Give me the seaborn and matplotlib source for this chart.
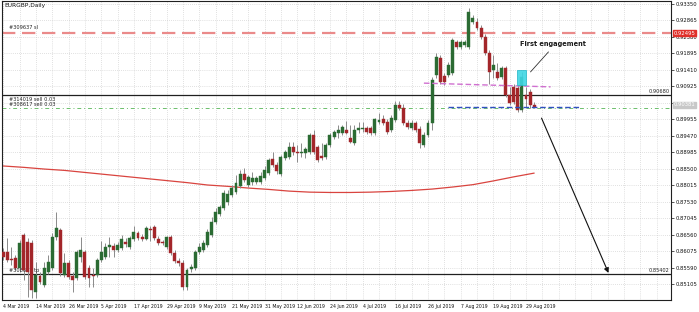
import numpy as np
import pandas as pd
import matplotlib
matplotlib.use("Agg")
import matplotlib.pyplot as plt
from matplotlib.patches import Rectangle
from matplotlib.transforms import blended_transform_factory
import seaborn as sns

# ---------------- data (EURGBP daily) ----------------
opens = [0.8605,0.8605,0.8584,0.8587,0.8558,0.8655,0.8634,0.8631,0.8487,0.8534,
         0.8507,0.8546,0.8558,0.8649,0.8669,0.8537,0.8572,0.8534,0.8528,0.8590,
         0.8605,0.8558,0.8537,0.8537,0.8581,0.8590,0.8619,0.8622,0.8611,0.8616,
         0.8634,0.8619,0.8643,0.8661,0.8649,0.8643,0.8672,0.8678,0.8643,0.8634,
         0.8619,0.8649,0.8602,0.8578,0.8572,0.8502,0.8555,0.8558,0.8605,0.8611,
         0.8625,0.8655,0.8693,0.8717,0.8734,0.8752,0.8773,0.8781,0.8799,0.8834,
         0.8802,0.8811,0.8811,0.8811,0.8823,0.8837,0.8879,0.8861,0.8834,0.8881,
         0.8884,0.8914,0.8899,0.8896,0.8896,0.8899,0.8949,0.8914,0.8887,0.8884,
         0.8920,0.8943,0.8955,0.8955,0.8964,0.8940,0.8926,0.8964,0.8967,0.8970,
         0.8970,0.8955,0.8988,0.8996,0.8988,0.8964,0.8993,0.9038,0.9029,0.8985,
         0.8970,0.8985,0.8967,0.8920,0.8949,0.8985,0.9126,0.9176,0.9123,0.9126,
         0.9132,0.9223,0.9208,0.9214,0.9208,0.9282,0.9282,0.9264,0.9238,0.9191,
         0.9141,0.9135,0.9120,0.9147,0.9067,0.9091,0.9088,0.9023,0.9067,0.9076,
         0.9038]
highs = [0.8616,0.8646,0.8619,0.8596,0.8640,0.8661,0.8646,0.8640,0.8575,0.8546,
         0.8575,0.8596,0.8661,0.8722,0.8675,0.8602,0.8581,0.8546,0.8611,0.8649,
         0.8611,0.8566,0.8558,0.8587,0.8637,0.8631,0.8649,0.8631,0.8634,0.8655,
         0.8646,0.8652,0.8681,0.8667,0.8658,0.8681,0.8681,0.8684,0.8652,0.8640,
         0.8652,0.8655,0.8611,0.8587,0.8581,0.8558,0.8569,0.8611,0.8631,0.8640,
         0.8672,0.8708,0.8734,0.8743,0.8787,0.8787,0.8802,0.8831,0.8846,0.8852,
         0.8831,0.8840,0.8829,0.8840,0.8858,0.8881,0.8899,0.8870,0.8890,0.8905,
         0.8929,0.8929,0.8920,0.8926,0.8914,0.8955,0.8964,0.8920,0.8926,0.8926,
         0.8955,0.8964,0.8979,0.8979,0.8990,0.8979,0.8979,0.8988,0.8988,0.8976,
         0.8976,0.8999,0.9014,0.9008,0.8996,0.9008,0.9049,0.9049,0.9041,0.8993,
         0.8993,0.8990,0.8976,0.8958,0.8993,0.9120,0.9191,0.9185,0.9132,0.9164,
         0.9235,0.9229,0.9229,0.9229,0.9323,0.9303,0.9294,0.9273,0.9247,0.9200,
         0.9185,0.9161,0.9152,0.9152,0.9091,0.9099,0.9096,0.9135,0.9091,0.9085,
         0.9046]
lows = [0.8581,0.8575,0.8566,0.8552,0.8546,0.8522,0.8472,0.8469,0.8469,0.8510,
        0.8502,0.8540,0.8552,0.8640,0.8534,0.8531,0.8525,0.8487,0.8522,0.8575,
        0.8525,0.8502,0.8502,0.8531,0.8575,0.8584,0.8590,0.8590,0.8605,0.8611,
        0.8619,0.8613,0.8637,0.8640,0.8637,0.8640,0.8637,0.8640,0.8625,0.8625,
        0.8613,0.8596,0.8572,0.8563,0.8493,0.8493,0.8546,0.8552,0.8599,0.8605,
        0.8619,0.8649,0.8687,0.8711,0.8728,0.8743,0.8767,0.8775,0.8793,0.8811,
        0.8796,0.8802,0.8805,0.8805,0.8817,0.8831,0.8855,0.8834,0.8829,0.8876,
        0.8879,0.8890,0.8870,0.8884,0.8881,0.8893,0.8893,0.8870,0.8876,0.8879,
        0.8914,0.8937,0.8940,0.8949,0.8952,0.8926,0.8920,0.8955,0.8958,0.8952,
        0.8949,0.8949,0.8982,0.8979,0.8952,0.8958,0.8988,0.9023,0.8979,0.8967,
        0.8964,0.8958,0.8911,0.8914,0.8943,0.8964,0.9117,0.9099,0.9096,0.9120,
        0.9126,0.9202,0.9202,0.9208,0.9202,0.9276,0.9258,0.9232,0.9185,0.9099,
        0.9117,0.9111,0.9114,0.9061,0.9038,0.9041,0.9017,0.9017,0.9032,0.9029,
        0.9029]
closes = [0.8590,0.8581,0.8581,0.8558,0.8631,0.8552,0.8546,0.8493,0.8537,0.8516,
          0.8558,0.8575,0.8649,0.8675,0.8543,0.8572,0.8531,0.8522,0.8605,0.8611,
          0.8531,0.8528,0.8534,0.8581,0.8605,0.8619,0.8625,0.8611,0.8625,0.8643,
          0.8628,0.8646,0.8664,0.8646,0.8643,0.8675,0.8669,0.8646,0.8631,0.8631,
          0.8649,0.8602,0.8578,0.8572,0.8502,0.8552,0.8561,0.8605,0.8619,0.8631,
          0.8664,0.8693,0.8722,0.8737,0.8778,0.8775,0.8793,0.8808,0.8834,0.8817,
          0.8826,0.8823,0.8823,0.8829,0.8846,0.8876,0.8861,0.8843,0.8884,0.8899,
          0.8914,0.8899,0.8896,0.8899,0.8908,0.8949,0.8899,0.8876,0.8881,0.8920,
          0.8949,0.8958,0.8964,0.8973,0.8955,0.8929,0.8964,0.8970,0.8970,0.8958,
          0.8955,0.8996,0.8993,0.8985,0.8958,0.8999,0.9038,0.9029,0.8985,0.8973,
          0.8985,0.8964,0.8926,0.8949,0.8985,0.9111,0.9179,0.9105,0.9105,0.9155,
          0.9229,0.9208,0.9223,0.9223,0.9311,0.9294,0.9264,0.9238,0.9191,0.9135,
          0.9155,0.9117,0.9147,0.9067,0.9043,0.9046,0.9023,0.9120,0.9055,0.9038,
          0.9032]

# 200-period moving average, sampled every 5 bars
ma_idx = [0, 5, 10, 15, 20, 25, 30, 35, 40, 45, 50, 55, 60, 65, 70, 75, 80, 85,
          90, 95, 100, 105, 110, 115, 120, 125, 130]
ma_vals = [0.8858,0.8854,0.8849,0.8845,0.8839,0.8833,0.8827,0.8821,0.8815,0.8809,
           0.8802,0.8798,0.8793,0.8789,0.8784,0.8781,0.8780,0.8780,0.8781,0.8783,
           0.8786,0.8790,0.8796,0.8803,0.8814,0.8826,0.8837]

date_idx = [0, 8, 16, 24, 32, 40, 48, 56, 64, 72, 80, 88, 96, 104, 112, 120, 128]
date_labels = ["4 Mar 2019", "14 Mar 2019", "26 Mar 2019", "5 Apr 2019",
               "17 Apr 2019", "29 Apr 2019", "9 May 2019", "21 May 2019",
               "31 May 2019", "12 Jun 2019", "24 Jun 2019", "4 Jul 2019",
               "16 Jul 2019", "26 Jul 2019", "7 Aug 2019", "19 Aug 2019",
               "29 Aug 2019"]
price_ticks = [0.93350, 0.92865, 0.92380, 0.91895, 0.91410, 0.90925, 0.90440,
               0.89955, 0.89470, 0.88985, 0.88500, 0.88015, 0.87530, 0.87045,
               0.86560, 0.86075, 0.85590, 0.85105]

sl_level = 0.92495
black_level = 0.90680
bid_level = 0.90381
order_level = 0.90290
tp_level = 0.85402
pink_x = [103, 134]
pink_y = [0.9102, 0.9091]
blue_x = [109, 141]
blue_y = [0.9032, 0.9032]
box_x = [125.9, 127.9]
box_y = [0.9096, 0.9141]
arrow_from = (131.8, 0.8999)
arrow_to = (148.2, 0.8543)
note_xy = (126.6, 0.9216)
note_line_from = (133.5, 0.9194)
note_line_to = (129.1, 0.9135)

# ---------------- figure ----------------
sns.set_style("white")
plt.rcParams['font.family'] = ['DejaVu Sans']

W, H = 699, 312
fig = plt.figure(figsize=(W / 100, H / 100), dpi=100)
fig.patch.set_facecolor("white")
ax = fig.add_axes([2 / W, 12 / H, 669 / W, 299 / H])
ax.set_facecolor("white")

df = pd.DataFrame({"open": opens, "high": highs, "low": lows, "close": closes})
df["idx"] = np.arange(len(df))
up = df["close"] >= df["open"]
colors = np.where(up, "#2b6b33", "#a3262a")
body_lo = np.minimum(df["open"], df["close"])
body_h = np.maximum(np.abs(df["close"] - df["open"]), 0.00010)

ax.vlines(df["idx"], df["low"], df["high"], color="#8a8a8a", lw=0.7, zorder=3)
ax.bar(df["idx"], body_h, bottom=body_lo, width=0.72, color=colors,
       edgecolor=colors, linewidth=0.3, zorder=4)

# moving average
sns.lineplot(x=ma_idx, y=ma_vals, ax=ax, color="#d9443f", lw=0.9, zorder=2)

# horizontal levels
ax.axhline(sl_level, color="#ea8a8a", lw=1.6, ls=(0, (6, 3)), zorder=2)
ax.axhline(black_level, color="#202020", lw=0.9, zorder=2)
ax.axhline(order_level, color="#6cbf6c", lw=0.7, ls=(0, (4, 3, 1, 3)), zorder=2)
ax.axhline(tp_level, color="#202020", lw=0.9, zorder=2)

ax.plot(pink_x, pink_y, color="#d070d0", lw=1.0, ls=(0, (4, 2)), zorder=5)
ax.plot(blue_x, blue_y, color="#3050c0", lw=1.0, ls=(0, (4, 2)), zorder=5)

ax.add_patch(Rectangle((box_x[0], box_y[0]), box_x[1] - box_x[0], box_y[1] - box_y[0],
                       facecolor="#3fd6e4", edgecolor="#27b8c8", lw=0.6, alpha=0.9, zorder=6))

ax.text(note_xy[0], note_xy[1], "First engagement", fontsize=4.8, fontweight="bold",
        color="#1a1a1a", ha="left", va="center", zorder=7)
ax.plot([note_line_from[0], note_line_to[0]], [note_line_from[1], note_line_to[1]],
        color="#303030", lw=0.6, zorder=7)
ax.annotate("", xy=arrow_to, xytext=arrow_from,
            arrowprops=dict(arrowstyle="-|>", color="#111111", lw=0.8,
                            mutation_scale=7, shrinkA=0, shrinkB=0), zorder=7)

# text labels in plot
ax.text(1.5, sl_level + 0.0008, "#309637 sl", fontsize=3.6, color="#222222",
        ha="left", va="bottom")
ax.text(1.5, order_level + 0.0004, "#314019 sell 0.03\n#308617 sell 0.03",
        fontsize=3.6, color="#222222", ha="left", va="bottom", linespacing=0.9)
ax.text(1.5, tp_level + 0.0002, "#308617 tp", fontsize=3.6, color="#222222",
        ha="left", va="bottom")
ax.text(163.2, black_level + 0.0002, "0.90680", fontsize=3.6, color="#222222",
        ha="right", va="bottom")
ax.text(163.2, tp_level + 0.0002, "0.85402", fontsize=3.6, color="#222222",
        ha="right", va="bottom")

# axes limits / ticks
ax.set_xlim(-0.3, 163.5)
ax.set_ylim(0.84633, 0.93439)
ax.yaxis.tick_right()
ax.set_yticks(price_ticks)
# the 0.90440 label is hidden under the bid price box in the reference
ax.set_yticklabels(["" if abs(v - 0.90440) < 1e-6 else f"{v:.5f}" for v in price_ticks],
                   fontsize=3.8)
ax.set_xticks(date_idx)
ax.set_xticklabels(date_labels, fontsize=3.35, ha="left")
ax.set_xticks(np.arange(0, 164, 4), minor=True)
ax.tick_params(axis="both", which="major", length=2, width=0.5, pad=1, colors="#111111")
ax.tick_params(axis="x", which="minor", length=0)
ax.grid(True, which="both", axis="x", color="#c4c4c4", lw=0.5, ls=(0, (1, 2)))
ax.grid(True, which="major", axis="y", color="#c4c4c4", lw=0.5, ls=(0, (1, 2)))
ax.set_xlabel("")
ax.set_ylabel("")
for s in ax.spines.values():
    s.set_color("#202020")
    s.set_linewidth(0.8)
    s.set_visible(True)

# price labels on right axis
tr = blended_transform_factory(ax.transAxes, ax.transData)
ax.text(1.004, sl_level, "0.92495", transform=tr, fontsize=3.8, color="white",
        ha="left", va="center", zorder=10, clip_on=False,
        bbox=dict(boxstyle="square,pad=0.15", fc="#e0302a", ec="#e0302a"))
ax.text(1.004, bid_level, "0.90381", transform=tr, fontsize=3.8, color="white",
        ha="left", va="center", zorder=10, clip_on=False,
        bbox=dict(boxstyle="square,pad=0.15", fc="#c8c8c8", ec="#c8c8c8"))

fig.text(4 / W, 1 - 3 / H, "EURGBP,Daily", fontsize=4.2, color="#111111",
         ha="left", va="top")

fig.savefig("out.png", dpi=100, facecolor="white")
